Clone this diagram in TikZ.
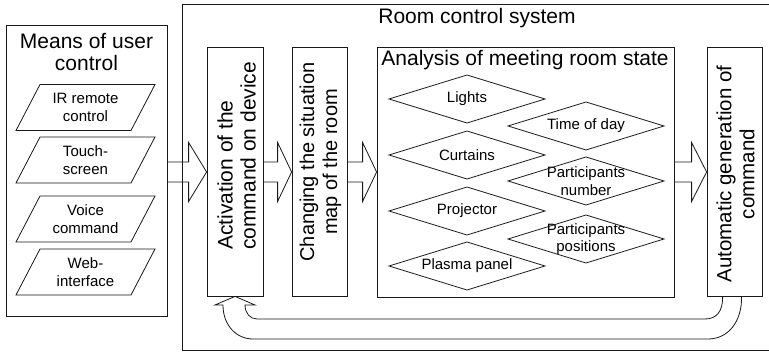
\documentclass[tikz,border=0pt]{standalone}
\usepackage{fontspec}
\setmainfont{Liberation Sans}
\usetikzlibrary{calc}
\tikzset{
 ln/.style={draw=black!90, line width=0.8pt},
 box/.style={ln, rectangle, inner sep=0pt},
 bigtxt/.style={font=\fontsize{21}{23}\selectfont, align=center, inner sep=0pt},
 titletxt/.style={font=\fontsize{21}{22}\selectfont, align=center, inner sep=0pt},
 smtxt/.style={font=\fontsize{15}{17.5}\selectfont, align=center, inner sep=0pt},
 barrow/.style={ln, to path={($(\tikztostart)+(0,-10)$) -- ($(\tikztotarget)+(-#1,-10)$) -- ($(\tikztotarget)+(-#1,-29.5)$) -- (\tikztotarget) -- ($(\tikztotarget)+(-#1,29.5)$) -- ($(\tikztotarget)+(-#1,10)$) -- ($(\tikztostart)+(0,10)$)}},
}
\newcommand\dmd[4]{%
 \node[smtxt] (#1) at (#2,#3) {#4};
 \draw[ln] ($(#1)+(-78,0)$) -- ($(#1)+(0,-24)$) -- ($(#1)+(78,0)$) -- ($(#1)+(0,24)$) -- cycle;}
\newcommand\plg[4]{%
 \node[smtxt] (#1) at (#2,#3) {#4};
 \draw[ln] ($(#1)+(-69.5,23)$) -- ($(#1)+(45.5,23)$) -- ($(#1)+(69.5,-23)$) -- ($(#1)+(-45.5,-23)$) -- cycle;}
\begin{document}
\begin{tikzpicture}[x=1pt,y=-1pt]
\clip (0,0) rectangle (769,352);
\fill[white] (0,0) rectangle (769,352);
\coordinate (mid) at (0,172);

% left box
\node[box, minimum width=161, minimum height=291] (users) at (86.5,170.5) {};
\node[titletxt] (userst) at (86.5,52) {Means of user\\control};
\plg{ir}{85.5}{107.5}{IR remote\\control}
\plg{touch}{85.5}{160}{Touch-\\screen}
\plg{voice}{85.5}{219}{Voice\\command}
\plg{web}{85.5}{272}{Web-\\interface}

% outer box
\node[box, minimum width=590, minimum height=346] (room) at (477,177) {};
\node[titletxt] (roomt) at (477,18) {Room control system};

% inner boxes
\node[box, minimum width=56, minimum height=249] (act) at (235,171.5) {};
\node[bigtxt, font=\fontsize{21}{23}\selectfont, align=left, rotate=90, anchor=west] (actt) at (236.5,250) {Activation of the\\command on device};
\node[box, minimum width=55, minimum height=249] (chg) at (319.5,171.5) {};
\node[bigtxt, font=\fontsize{20}{23}\selectfont, rotate=90] (chgt) at (320.5,162) {Changing the situation\\map of the room};
\node[box, minimum width=297, minimum height=250] (ana) at (525.5,172) {};
\node[titletxt] (anat) at (525,60) {Analysis of meeting room state};
\node[box, minimum width=55, minimum height=249] (auto) at (734.5,171.5) {};
\node[bigtxt, font=\fontsize{20.5}{23}\selectfont, rotate=90] (autot) at (735.5,174) {Automatic generation of\\command};

% diamonds
\dmd{lights}{467}{99}{Lights}
\dmd{curtains}{467}{155}{Curtains}
\dmd{projector}{467}{211}{Projector}
\dmd{plasma}{467}{266}{Plasma panel}
\dmd{time}{586}{126}{Time of day}
\dmd{pnum}{586}{181}{Participants\\number}
\dmd{ppos}{586}{239}{Participants\\positions}

% block arrows
\draw[barrow=18] (users.east |- mid) to (act.west |- mid);
\draw[barrow=14] (act.east |- mid) to (chg.west |- mid);
\draw[barrow=14] (chg.east |- mid) to (ana.west |- mid);
\draw[barrow=15] (ana.east |- mid) to (auto.west |- mid);

% feedback arrow
\draw[ln] ($(auto.south west)+(16,0)$) .. controls (723,312) and (716,319) .. (705,319)
  -- (257,319) .. controls (250,319) and (245,313) .. (245,305)
  -- (255,305) -- (act.south) -- (215,305) -- (223,305)
  .. controls (223,326) and (237,339) .. (253,339)
  -- (708,339) .. controls (728,339) and (742,322) .. ($(auto.south west)+(35,0)$);
\end{tikzpicture}
\end{document}
